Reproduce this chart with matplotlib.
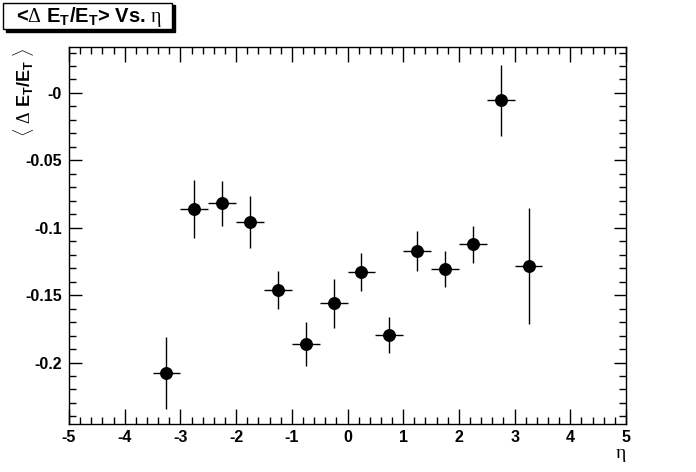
import matplotlib
matplotlib.use("Agg")
import matplotlib.pyplot as plt
from matplotlib.patches import Rectangle
from matplotlib.ticker import FixedLocator, FixedFormatter, MultipleLocator

# mean of Delta E_T / E_T in bins of eta
eta = [-3.25, -2.75, -2.25, -1.75, -1.25, -0.75, -0.25, 0.25, 0.75, 1.25, 1.75, 2.25, 2.75, 3.25]
eta_halfwidth = [0.25] * len(eta)
mean_de = [-0.2078, -0.0863, -0.0819, -0.0957, -0.1462, -0.1863, -0.1561,
           -0.1328, -0.1796, -0.1173, -0.1306, -0.1123, -0.0054, -0.1284]
err_de = [0.0266, 0.0214, 0.0166, 0.0195, 0.0140, 0.0166, 0.0184,
          0.0140, 0.0135, 0.0147, 0.0136, 0.0136, 0.0262, 0.0429]

xticks = [-5, -4, -3, -2, -1, 0, 1, 2, 3, 4, 5]
xtick_labels = ["-5", "-4", "-3", "-2", "-1", "0", "1", "2", "3", "4", "5"]
yticks = [0.0, -0.05, -0.1, -0.15, -0.2]
ytick_labels = ["-0", "-0.05", "-0.1", "-0.15", "-0.2"]

plt.rcParams['font.family'] = ['Liberation Sans', 'DejaVu Sans']
plt.rcParams['axes.unicode_minus'] = False
plt.rcParams['mathtext.fontset'] = 'custom'
plt.rcParams['mathtext.rm'] = 'Liberation Serif'
plt.rcParams['mathtext.bf'] = 'Liberation Sans:bold'
plt.rcParams['mathtext.sf'] = 'Liberation Sans'

fig = plt.figure(figsize=(6.96, 4.72), dpi=100)
ax = fig.add_axes([69 / 696, 1 - 424 / 472, 557 / 696, 377 / 472])

ax.errorbar(eta, mean_de, xerr=eta_halfwidth, yerr=err_de, fmt='o', color='k',
            ms=8.3, elinewidth=1.0, capsize=0)

ax.set_xlim(-5, 5)
ax.set_ylim(-0.2456, 0.0341)

ax.xaxis.set_major_locator(FixedLocator(xticks))
ax.xaxis.set_major_formatter(FixedFormatter(xtick_labels))
ax.xaxis.set_minor_locator(MultipleLocator(0.2))
ax.yaxis.set_major_locator(FixedLocator(yticks))
ax.yaxis.set_major_formatter(FixedFormatter(ytick_labels))
ax.yaxis.set_minor_locator(MultipleLocator(0.01))

ax.tick_params(which='both', direction='in', top=True, right=True, width=1, color='k')
ax.tick_params(axis='x', which='major', length=11, pad=4.5, labelsize=11.5)
ax.tick_params(axis='x', which='minor', length=5)
ax.tick_params(axis='y', which='major', length=9, pad=5, labelsize=11.5)
ax.tick_params(axis='y', which='minor', length=5)
for lbl in ax.get_xticklabels() + ax.get_yticklabels():
    lbl.set_fontweight('bold')
for sp in ax.spines.values():
    sp.set_linewidth(1)

ax.set_xlabel(r'$\mathrm{η}$', loc='right', fontsize=14, labelpad=1)
ax.set_ylabel(r'$\langle$ $\mathrm{Δ}$ $\mathbf{E_T}$/$\mathbf{E_T}$ $\rangle$',
              loc='top', fontsize=13, fontweight='bold')
ax.yaxis.set_label_coords(-0.06, 1.0)

# title box with shadow (ROOT style)
fig.patches.append(Rectangle((6 / 696, 1 - 32 / 472), 169 / 696, 27 / 472,
                             transform=fig.transFigure, facecolor='k', edgecolor='k'))
fig.patches.append(Rectangle((3 / 696, 1 - 29 / 472), 169 / 696, 26 / 472,
                             transform=fig.transFigure, facecolor='white', edgecolor='k', lw=1))
fig.text(89 / 696, 1 - 17 / 472,
         r'<$\mathrm{Δ}$ $\mathbf{E_T}$/$\mathbf{E_T}$> Vs. $\mathrm{η}$',
         ha='center', va='center', fontsize=14.5, fontweight='bold')

fig.savefig('out.png', dpi=100)
